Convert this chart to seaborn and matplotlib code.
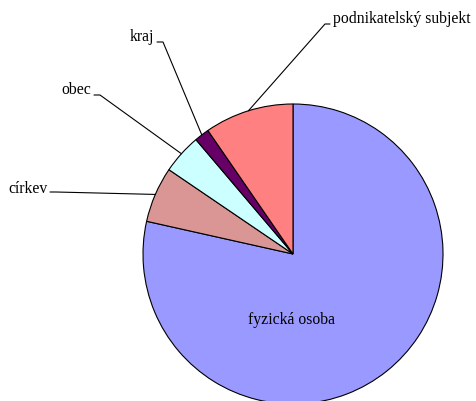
import numpy as np
import matplotlib
matplotlib.use('Agg')
import matplotlib.pyplot as plt
import seaborn as sns

# Data (share in %), clockwise from 12 o'clock
categories = ['fyzická osoba', 'církev', 'obec', 'kraj', 'podnikatelský subjekt']
shares = [78.5, 6.0, 4.3, 1.6, 9.6]
colors = ['#9999FF', '#D99694', '#CCFFFF', '#660066', '#FF8080']

sns.set_theme(style='white')
plt.rcParams['font.family'] = ['Liberation Serif', 'DejaVu Serif']

W, H = 476, 401
cx, cy, R = 293, 254, 150  # pie centre and radius in pixels

fig = plt.figure(figsize=(W / 100, H / 100), dpi=100)
ax = fig.add_axes([0, 0, 1, 1])

wedges, _ = ax.pie(shares, colors=colors, startangle=90, counterclock=False,
                   radius=1, center=(0, 0),
                   wedgeprops=dict(edgecolor='black', linewidth=0.8))

ax.set_xlim(-cx / R, (W - cx) / R)
ax.set_ylim((cy - H) / R, cy / R)
ax.set_aspect('equal')
ax.axis('off')


def px(x, y):
    # pixel position -> data coords
    return (x - cx) / R, (cy - y) / R


# label layout: text anchor (px), ha, start of leader tick near text (px)
layout = {
    'církev': ((48, 189), 'right', (50, 192)),
    'obec': ((91, 90), 'right', (94, 95)),
    'kraj': ((154, 37), 'right', (157, 42)),
    'podnikatelský subjekt': ((333, 19), 'left', (330, 24)),
}

fs = 11.3
for w, name in zip(wedges, categories):
    if name == 'fyzická osoba':
        tx, ty = px(291, 320)
        ax.text(tx, ty, name, ha='center', va='center', fontsize=fs, color='black')
        continue
    (lx, ly), ha, (ex, ey) = layout[name]
    mid = np.deg2rad((w.theta1 + w.theta2) / 2)
    edge = (np.cos(mid), np.sin(mid))
    tick_start = px(ex, ey)
    tick_end = px(ex + 6, ey) if ha == 'right' else px(ex - 5, ey)
    ax.plot([tick_start[0], tick_end[0], edge[0]], [tick_start[1], tick_end[1], edge[1]],
            color='black', linewidth=0.8)
    tx, ty = px(lx, ly)
    ax.text(tx, ty, name, ha=ha, va='center', fontsize=fs, color='black')

fig.savefig('out.png', dpi=100, facecolor='white')
